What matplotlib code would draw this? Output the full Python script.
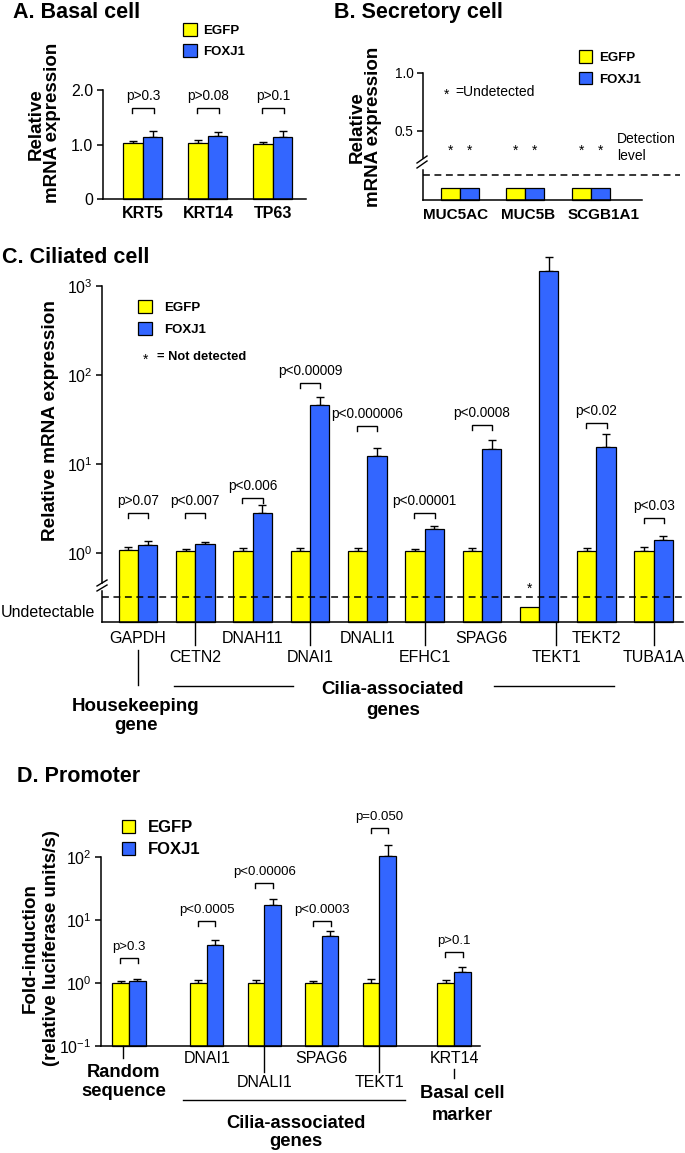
import numpy as np
import matplotlib
matplotlib.use('Agg')
import matplotlib.pyplot as plt
from matplotlib.patches import Rectangle
from matplotlib.lines import Line2D
import matplotlib.transforms as mtransforms
from matplotlib.ticker import FuncFormatter, NullLocator

plt.rcParams['font.family'] = ['Liberation Sans', 'DejaVu Sans']
plt.rcParams['mathtext.fontset'] = 'custom'
plt.rcParams['mathtext.rm'] = 'Liberation Sans'
plt.rcParams['mathtext.it'] = 'Liberation Sans:italic'
plt.rcParams['mathtext.bf'] = 'Liberation Sans:bold'
plt.rcParams['mathtext.default'] = 'regular'

# ---------------- Data ----------------
# A. Basal cell
genes_a = ['KRT5', 'KRT14', 'TP63']
egfp_a = [1.02, 1.03, 1.01]
egfp_a_err = [0.05, 0.05, 0.04]
foxj1_a = [1.13, 1.16, 1.14]
foxj1_a_err = [0.11, 0.07, 0.10]
pvals_a = ['p>0.3', 'p>0.08', 'p>0.1']

# B. Secretory cell (all undetected: drawn below the detection level = 1.0)
genes_b = ['MUC5AC', 'MUC5B', 'SCGB1A1']
egfp_b = [0.5, 0.5, 0.5]
foxj1_b = [0.5, 0.5, 0.5]
detection_level_b = 1.0

# C. Ciliated cell
genes_c = ['GAPDH', 'CETN2', 'DNAH11', 'DNAI1', 'DNALI1', 'EFHC1',
           'SPAG6', 'TEKT1', 'TEKT2', 'TUBA1A']
egfp_c = [1.08, 1.05, 1.05, 1.05, 1.06, 1.06, 1.06, 0.25, 1.05, 1.06]
egfp_c_err = [0.08, 0.06, 0.10, 0.08, 0.07, 0.05, 0.07, 0.0, 0.10, 0.12]
foxj1_c = [1.23, 1.25, 2.79, 46.0, 12.3, 1.85, 14.7, 1475, 15.6, 1.40]
foxj1_c_err = [0.14, 0.09, 0.67, 10.3, 2.7, 0.18, 3.9, 625, 6.0, 0.16]
pvals_c = ['p>0.07', 'p<0.007', 'p<0.006', 'p<0.00009', 'p<0.000006',
           'p<0.00001', 'p<0.0008', '', 'p<0.02', 'p<0.03']
undetected_c = [False, False, False, False, False, False, False, True, False, False]
detection_level_c = 0.32

# D. Promoter
promoters_d = ['Random', 'DNAI1', 'DNALI1', 'SPAG6', 'TEKT1', 'KRT14']
egfp_d = [1.0, 1.0, 1.0, 1.0, 1.0, 1.0]
egfp_d_err = [0.09, 0.11, 0.11, 0.09, 0.16, 0.13]
foxj1_d = [1.06, 4.0, 17.5, 5.6, 105, 1.48]
foxj1_d_err = [0.10, 0.76, 3.8, 1.2, 50, 0.34]
pvals_d = ['p>0.3', 'p<0.0005', 'p<0.00006', 'p<0.0003', 'p=0.050', 'p>0.1']

# ---------------- Layout helpers ----------------
W, H = 685, 1153
fig = plt.figure(figsize=(W / 100, H / 100), dpi=100)
YEL = '#FFFF00'
BLU = '#3366FF'
EDGE_LW = 0.9


def fx(x):
    return x / W


def fy(y):
    return 1 - y / H


def add_ax(l, t, r, b):
    return fig.add_axes([l / W, 1 - b / H, (r - l) / W, (b - t) / H])


def ftext(x, y, s, **kw):
    kw.setdefault('va', 'baseline')
    fig.text(fx(x), fy(y), s, **kw)


def fline(xs, ys, lw=1.0, **kw):
    fig.add_artist(Line2D([fx(x) for x in xs], [fy(y) for y in ys], color='k',
                          lw=lw, transform=fig.transFigure, **kw))


def fsquare(x0, y0, x1, y1, color):
    fig.add_artist(Rectangle((fx(x0), fy(y1)), (x1 - x0) / W, (y1 - y0) / H,
                             transform=fig.transFigure, facecolor=color,
                             edgecolor='k', lw=EDGE_LW))


def legend(x0, x1, ye, yf, tx, fs):
    fsquare(x0, ye[0], x1, ye[1], YEL)
    fsquare(x0, yf[0], x1, yf[1], BLU)
    cap = 0.72 * fs * 100 / 72
    ftext(tx, (ye[0] + ye[1]) / 2 + cap / 2, 'EGFP', fontsize=fs, weight='bold')
    ftext(tx, (yf[0] + yf[1]) / 2 + cap / 2, 'FOXJ1', fontsize=fs, weight='bold')


def ylab(xb, yc, s, fs=13.5):
    fig.text(fx(xb), fy(yc), s, rotation=90, rotation_mode='anchor',
             ha='center', va='baseline', fontsize=fs, weight='bold')


def blend(ax):
    return mtransforms.blended_transform_factory(ax.transData, fig.transFigure)


def xtext(ax, x, ypx, s, **kw):
    ax.text(x, fy(ypx), s, transform=blend(ax), ha='center', va='baseline',
            clip_on=False, **kw)


def xvline(ax, x, y0, y1):
    ax.plot([x, x], [fy(y0), fy(y1)], transform=blend(ax), color='k', lw=1,
            clip_on=False)


def style(ax):
    for s in ['top', 'right']:
        ax.spines[s].set_visible(False)
    for s in ['left', 'bottom']:
        ax.spines[s].set_linewidth(1.1)
    ax.tick_params(axis='y', direction='out', length=4, width=1.1, pad=3)
    ax.tick_params(axis='x', length=0, labelbottom=False)
    ax.set_xticks([])
    ax.patch.set_alpha(0)


def bars(ax, x, w, e, f, ee=None, fe=None, bottom=0.0):
    x = np.asarray(x, dtype=float)
    for xs, v, err, col in [(x - w / 2, e, ee, YEL), (x + w / 2, f, fe, BLU)]:
        v = np.asarray(v, dtype=float)
        ax.bar(xs, v - bottom, w, bottom=bottom, color=col, edgecolor='k',
               lw=EDGE_LW, clip_on=False, zorder=2)
        if err is None:
            continue
        err = np.asarray(err, dtype=float)
        m = err > 0
        ax.errorbar(xs[m], v[m], yerr=[np.zeros(m.sum()), err[m]],
                    fmt='none', ecolor='k', elinewidth=1, capsize=3.2,
                    capthick=1, clip_on=False, zorder=1)


def bracket(ax, xc, half, yb, text, fs, tick=5, gap=3.5):
    disp = ax.transData.transform((xc, yb))
    ylow = ax.transData.inverted().transform((disp[0], disp[1] - tick))[1]
    ax.plot([xc - half, xc - half, xc + half, xc + half], [ylow, yb, yb, ylow],
            color='k', lw=1, clip_on=False, solid_joinstyle='miter')
    ax.annotate(text, (xc, yb), xytext=(0, gap), textcoords='offset points',
                ha='center', va='bottom', fontsize=fs, annotation_clip=False)


def pow10(v, pos):
    return r'$10^{%d}$' % int(round(np.log10(v)))


# ---------------- A. Basal cell ----------------
ftext(13, 18, 'A. Basal cell', fontsize=15.5, weight='bold')
axA = add_ax(103, 90, 306, 199)
style(axA)
xa = np.arange(len(genes_a))
wa = 0.3
axA.set_xlim(-0.615, 2.51)
axA.set_ylim(0, 2.0)
bars(axA, xa, wa, egfp_a, foxj1_a, egfp_a_err, foxj1_a_err)
axA.set_yticks([0, 1, 2])
axA.set_yticklabels(['0', '1.0', '2.0'], fontsize=11.5)
for i, g in enumerate(genes_a):
    xtext(axA, i, 218, g, fontsize=11.5, weight='bold')
    bracket(axA, i, wa / 2 * 1.1, 1.67, pvals_a[i], 9.8)
legend(183, 197, (23, 36), (44, 57), 203, 9.5)
ylab(41, 124, 'Relative')
ylab(57, 123, 'mRNA expression')

# ---------------- B. Secretory cell ----------------
ftext(334, 18, 'B. Secretory cell', fontsize=15.5, weight='bold')
xb = np.arange(len(genes_b))
wb = 0.29
xlim_b = (-0.565, 2.78)
axB1 = add_ax(423, 73, 642, 158)
style(axB1)
axB1.spines['bottom'].set_visible(False)
axB1.set_xlim(*xlim_b)
axB1.set_ylim(0.267, 1.0)
axB1.set_yticks([0.5, 1.0])
axB1.set_yticklabels(['0.5', '1.0'], fontsize=9.8)
axB2 = add_ax(423, 170, 642, 200)
style(axB2)
axB2.set_xlim(*xlim_b)
axB2.set_ylim(0, 1.2)
axB2.set_yticks([])
bars(axB2, xb, wb, egfp_b, foxj1_b)
axB2.plot([xlim_b[0], 3.36], [detection_level_b] * 2, color='k', lw=1.1,
          dashes=[4.5, 3], clip_on=False)
label_shift_b = [-0.07, 0.04, 0.2]
for i, g in enumerate(genes_b):
    xtext(axB2, i + label_shift_b[i], 219, g, fontsize=11, weight='bold')
    for dx in (-wb / 2, wb / 2):
        axB1.text(i + dx, 0.293, '*', ha='center', va='baseline', fontsize=10)
fline([417, 427], [163, 156])
fline([417, 427], [168, 161])
legend(579, 592, (50, 63), (72, 84), 599, 9.5)
ftext(447, 99, '*', fontsize=10, ha='center')
ftext(455, 96, '=Undetected', fontsize=10)
ftext(617, 143, 'Detection', fontsize=10)
ftext(617, 160, 'level', fontsize=10)
ylab(362, 127, 'Relative')
ylab(378, 127, 'mRNA expression')

# ---------------- C. Ciliated cell ----------------
ftext(2, 263, 'C. Ciliated cell', fontsize=15.5, weight='bold')
axC = add_ax(102, 286, 683, 622)
style(axC)
axC.set_yscale('log')
ylo_c = 0.168
axC.set_ylim(ylo_c, 1000)
axC.set_xlim(-0.628, 9.51)
xc = np.arange(len(genes_c))
wc = 0.337
bars(axC, xc, wc, egfp_c, foxj1_c, egfp_c_err, foxj1_c_err, bottom=ylo_c)
axC.set_yticks([1, 10, 100, 1000])
axC.yaxis.set_major_formatter(FuncFormatter(pow10))
axC.yaxis.set_minor_locator(NullLocator())
axC.tick_params(axis='y', labelsize=11.5)
axC.spines['left'].set_bounds(0.46, 1000)
fline([102, 102], [591, 622], lw=1.1)
fline([97, 107], [586, 580])
fline([97, 107], [591, 585])
axC.plot([-0.628, 9.51], [detection_level_c] * 2, color='k', lw=1.1,
         dashes=[4.5, 3], clip_on=False)
ftext(1, 617, 'Undetectable', fontsize=11.5)
bracket_c = [2.81, 2.81, 4.15, 81.3, 26.7, 2.81, 27.4, None, 28.9, 2.47]
label_shift_c = {'TEKT1': 0.3}
for i, g in enumerate(genes_c):
    if pvals_c[i]:
        bracket(axC, i, wc / 2 * 1.05, bracket_c[i], pvals_c[i], 9.8)
    if undetected_c[i]:
        axC.annotate('*', (i - wc / 2, egfp_c[i]), xytext=(0, 10),
                     textcoords='offset points', ha='center', va='baseline',
                     fontsize=10, annotation_clip=False)
    if i % 2 == 0:
        xtext(axC, i, 643, g, fontsize=11.5)
    else:
        xl = i + label_shift_c.get(g, 0)
        xvline(axC, xl, 622, 645)
        xtext(axC, xl, 662, g, fontsize=11.5)
legend(138, 152, (300, 313), (322, 335), 164, 9.5)
ftext(146, 364, '*', fontsize=10, ha='center')
ftext(157, 360, '= Not detected', fontsize=9.3, weight='bold')
ylab(55, 421, 'Relative mRNA expression', fs=13.7)
# gene-group annotations
fline([138, 138], [650, 685])
ftext(136, 711, 'Housekeeping', fontsize=13.5, weight='bold', ha='center')
ftext(136, 730, 'gene', fontsize=13.5, weight='bold', ha='center')
fline([174, 293], [686, 686])
fline([494, 614], [686, 686])
ftext(393, 694, 'Cilia-associated', fontsize=13.5, weight='bold', ha='center')
ftext(393, 715, 'genes', fontsize=13.5, weight='bold', ha='center')

# ---------------- D. Promoter ----------------
ftext(17, 782, 'D. Promoter', fontsize=15.5, weight='bold')
axD = add_ax(101, 857, 480, 1046)
style(axD)
axD.set_yscale('log')
ylo_d = 0.1
axD.set_ylim(ylo_d, 100)
xd = np.array([0, 1.35, 2.35, 3.35, 4.35, 5.65])
axD.set_xlim(-0.487, 6.1)
wd = 0.29
bars(axD, xd, wd, egfp_d, foxj1_d, egfp_d_err, foxj1_d_err, bottom=ylo_d)
axD.set_yticks([0.1, 1, 10, 100])
axD.yaxis.set_major_formatter(FuncFormatter(pow10))
axD.yaxis.set_minor_locator(NullLocator())
axD.tick_params(axis='y', labelsize=11.5)
bracket_d = [2.49, 9.63, 38.7, 9.63, 288, 3.1]
for i in range(len(promoters_d)):
    bracket(axD, xd[i], wd / 2 * 1.05, bracket_d[i], pvals_d[i], 9.5)
for i in (1, 3, 5):
    xtext(axD, xd[i], 1063, promoters_d[i], fontsize=11.5)
for i in (2, 4):
    xvline(axD, xd[i], 1046, 1072)
    xtext(axD, xd[i], 1087, promoters_d[i], fontsize=11.5)
xvline(axD, xd[0] - 0.1, 1046, 1058)
xvline(axD, xd[5], 1069, 1078)
legend(122, 135, (820, 833), (842, 855), 148, 12)
ylab(35, 948, 'Fold-induction')
ylab(56, 948, '(relative luciferase units/s)')
ftext(123, 1077, 'Random', fontsize=13.2, weight='bold', ha='center')
ftext(124, 1096, 'sequence', fontsize=13.2, weight='bold', ha='center')
fline([183, 405], [1100, 1100])
ftext(296, 1128, 'Cilia-associated', fontsize=13.2, weight='bold', ha='center')
ftext(296, 1146, 'genes', fontsize=13.2, weight='bold', ha='center')
ftext(462, 1098, 'Basal cell', fontsize=13.2, weight='bold', ha='center')
ftext(462, 1120, 'marker', fontsize=13.2, weight='bold', ha='center')

fig.savefig('out.png', dpi=100)
